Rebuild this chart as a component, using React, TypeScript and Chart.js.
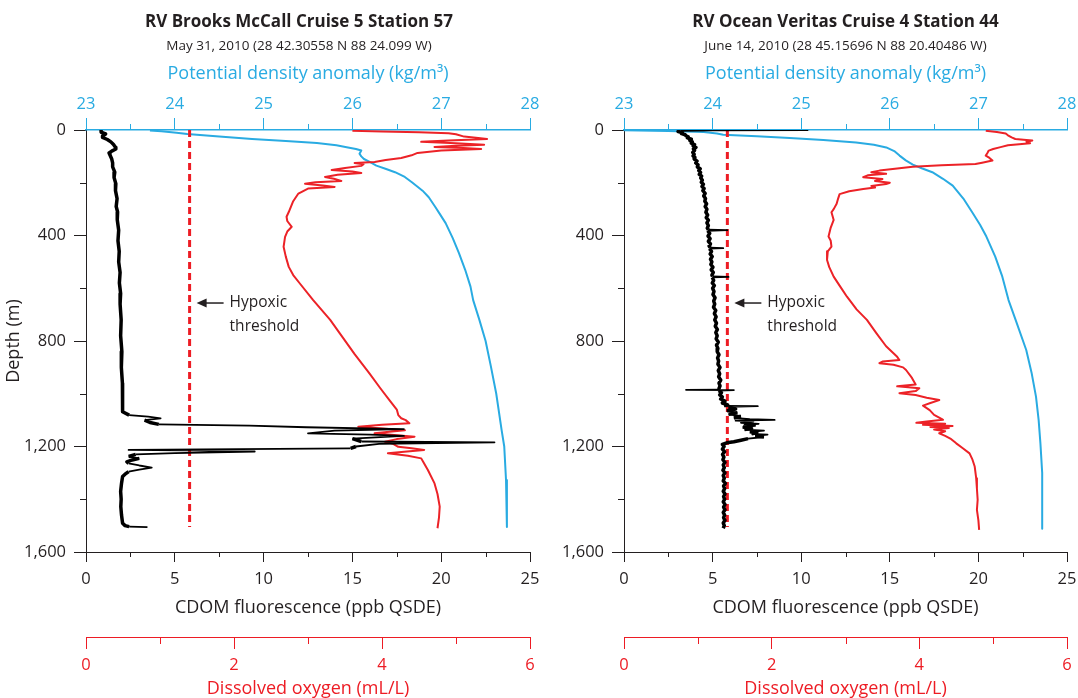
import React, { useEffect, useRef } from 'react';
import { Chart, registerables } from 'chart.js';

Chart.register(...registerables);

const FONT = "'Open Sans', 'Noto Sans', sans-serif";
const DARK = '#231F20';
const BLUE = '#29ABE2';
const RED = '#ED1C24';
const RED_LINE = '#EC2227';

// ---- tick values ----
const depthTicks = [0, 400, 800, 1200, 1600];
const depthMinorTicks = [200, 600, 1000, 1400];
const densityTicks = [23, 24, 25, 26, 27, 28];
const densityMinorTicks = [23.5, 24.5, 25.5, 26.5, 27.5];
const cdomTicks = [0, 5, 10, 15, 20, 25];
const cdomMinorTicks = [2.5, 7.5, 12.5, 17.5, 22.5];
const oxygenTicks = [0, 2, 4, 6];
const oxygenMinorTicks = [1, 3, 5];

const hypoxicThreshold = 1.4; // mL/L
const thresholdDepths = [0, 1505];
const annotationDepth = 656;

type Pair = [number, number]; // [depth (m), value]

// ---- RV Brooks McCall Cruise 5 Station 57 ----
const mcCallCdom: Pair[] = [
  [2, 0.9], [8, 0.85], [15, 1.1], [22, 0.95], [28, 0.93], [36, 1.2], [45, 1.4], [55, 1.55], [65, 1.65],
  [72, 1.68], [80, 1.45], [87, 1.3], [95, 1.35], [110, 1.45], [125, 1.5], [140, 1.5], [160, 1.62],
  [180, 1.58], [204, 1.68], [230, 1.66], [260, 1.75], [290, 1.7], [311, 1.78], [340, 1.76], [380, 1.84],
  [420, 1.8], [460, 1.87], [500, 1.84], [540, 1.92], [580, 1.88], [620, 1.95], [660, 1.92], [720, 1.98],
  [780, 1.95], [840, 2.02], [900, 1.99], [960, 2.05], [1024, 2.04], [1068, 2.08], [1081, 2.43], [1087, 3.5],
  [1093, 4.2], [1100, 3.3], [1109, 3.6], [1116, 4.1], [1121, 9.2], [1127, 12.4], [1134, 17.9], [1140, 14.0],
  [1150, 12.5], [1155, 16.0], [1160, 17.9], [1170, 15.0], [1181, 15.5], [1184, 23.0], [1190, 16.5],
  [1200, 15.2], [1207, 14.9], [1213, 2.4], [1216, 7.0], [1219, 9.5], [1225, 5.0], [1230, 2.8], [1238, 2.4],
  [1245, 3.0], [1251, 2.6], [1258, 2.3], [1264, 2.4], [1272, 3.0], [1280, 3.7], [1288, 3.0], [1295, 2.4],
  [1305, 2.2], [1314, 2.06], [1340, 2.0], [1370, 1.95], [1400, 1.98], [1428, 1.96], [1460, 2.0],
  [1491, 2.06], [1500, 2.2], [1504, 2.43], [1506, 3.46],
];
const mcCallDensity: Pair[] = [
  [2, 23.72], [5, 23.85], [10, 24.02], [15, 24.14], [25, 24.5], [34, 24.87], [42, 25.25], [49, 25.6],
  [58, 25.82], [66, 25.95], [72, 26.04], [78, 26.1], [90, 26.08], [100, 26.1], [110, 26.13], [122, 26.2],
  [135, 26.27], [148, 26.38], [160, 26.48], [178, 26.59], [198, 26.67], [230, 26.79], [255, 26.86],
  [290, 26.93], [316, 26.98], [353, 27.05], [410, 27.13], [467, 27.2], [530, 27.27], [594, 27.33],
  [645, 27.36], [720, 27.43], [800, 27.5], [897, 27.56], [1000, 27.62], [1137, 27.68], [1200, 27.71],
  [1327, 27.73], [1420, 27.74], [1505, 27.74],
];
const mcCallOxygen: Pair[] = [
  [3, 3.6], [6, 4.0], [9, 4.5], [12, 4.9], [16, 5.0], [25, 5.11], [30, 5.3], [34, 5.42], [40, 4.9],
  [45, 4.53], [50, 5.0], [56, 5.38], [60, 5.0], [64, 4.71], [68, 5.1], [72, 5.34], [78, 4.8], [87, 4.48],
  [96, 4.4], [106, 4.26], [114, 4.05], [121, 3.9], [125, 3.63], [130, 3.75], [136, 3.72], [144, 3.5],
  [152, 3.32], [157, 3.6], [163, 3.72], [170, 3.4], [178, 3.23], [185, 3.35], [193, 3.45], [198, 3.1],
  [204, 2.96], [210, 3.2], [216, 3.36], [222, 3.0], [241, 2.87], [270, 2.8], [311, 2.74], [329, 2.71],
  [345, 2.72], [367, 2.78], [385, 2.72], [405, 2.69], [443, 2.67], [480, 2.7], [519, 2.74], [550, 2.8],
  [582, 2.89], [645, 3.07], [720, 3.3], [771, 3.43], [850, 3.63], [923, 3.83], [980, 3.98], [1024, 4.1],
  [1060, 4.2], [1081, 4.22], [1093, 4.26], [1100, 4.32], [1112, 4.37], [1118, 4.0], [1125, 3.68],
  [1132, 4.0], [1138, 4.31], [1144, 4.1], [1150, 3.9], [1157, 4.2], [1163, 4.44], [1172, 4.2],
  [1182, 4.04], [1190, 4.15], [1201, 4.22], [1207, 4.4], [1213, 4.57], [1220, 4.3], [1226, 4.08],
  [1235, 4.35], [1245, 4.53], [1260, 4.56], [1289, 4.62], [1340, 4.71], [1380, 4.75], [1428, 4.78],
  [1470, 4.77], [1510, 4.75],
];

// ---- RV Ocean Veritas Cruise 4 Station 44 ----
const veritasCdom: Pair[] = [
  [0.5, 10.4], [1.5, 5.0], [3, 3.2], [6, 3.05], [10, 3.3], [14, 3.25], [18, 3.45], [22, 3.5], [26, 3.62],
  [30, 3.58], [35, 3.8], [40, 3.72], [45, 3.85], [50, 3.8], [55, 3.98], [60, 3.9], [66, 4.06], [72, 3.92],
  [78, 3.98], [85, 3.88], [92, 3.96], [98, 3.9], [104, 4.0], [110, 3.96], [118, 4.12], [125, 4.05],
  [132, 4.18], [140, 4.14], [147, 4.3], [154, 4.22], [161, 4.32], [168, 4.25], [175, 4.38], [182, 4.33],
  [190, 4.42], [198, 4.36], [206, 4.48], [214, 4.4], [222, 4.52], [230, 4.45], [240, 4.58], [250, 4.5],
  [260, 4.6], [270, 4.56], [280, 4.66], [290, 4.58], [300, 4.68], [312, 4.62], [322, 4.72], [332, 4.64],
  [342, 4.76], [352, 4.68], [362, 4.76], [372, 4.7], [378, 4.76], [380, 5.83], [382, 4.72], [392, 4.84],
  [402, 4.74], [412, 4.86], [422, 4.76], [432, 4.88], [440, 4.8], [446, 4.86], [448, 5.6], [450, 4.82],
  [460, 4.94], [470, 4.86], [480, 4.98], [490, 4.88], [500, 4.96], [510, 4.9], [520, 5.02], [530, 4.92],
  [540, 5.04], [550, 4.96], [555, 5.0], [557, 5.9], [559, 4.98], [570, 5.06], [580, 4.98], [590, 5.1],
  [600, 5.0], [612, 5.08], [624, 5.02], [636, 5.14], [648, 5.06], [660, 5.12], [672, 5.05], [684, 5.18],
  [696, 5.1], [708, 5.2], [720, 5.12], [732, 5.22], [744, 5.15], [756, 5.27], [768, 5.18], [780, 5.26],
  [792, 5.2], [804, 5.32], [816, 5.22], [828, 5.3], [840, 5.26], [852, 5.36], [864, 5.28], [876, 5.34],
  [888, 5.3], [900, 5.42], [912, 5.32], [924, 5.4], [936, 5.34], [948, 5.46], [960, 5.36], [970, 5.42],
  [980, 5.36], [984, 5.4], [985, 3.5], [986, 6.2], [988, 5.35], [996, 5.5], [1004, 5.4], [1012, 5.55],
  [1020, 5.45], [1028, 5.7], [1035, 5.55], [1042, 5.85], [1046, 5.65], [1047, 7.55], [1050, 5.9],
  [1058, 6.3], [1065, 5.8], [1072, 6.4], [1078, 5.9], [1085, 6.6], [1092, 6.2], [1096, 7.1], [1099, 8.5],
  [1102, 6.3], [1106, 7.3], [1110, 6.6], [1114, 7.6], [1118, 6.8], [1122, 7.4], [1126, 6.7], [1132, 7.2],
  [1136, 6.8], [1140, 7.9], [1144, 7.1], [1148, 7.5], [1152, 7.2], [1155, 8.1], [1160, 7.4], [1164, 7.9],
  [1170, 7.0], [1176, 6.6], [1182, 6.2], [1186, 5.8], [1192, 5.55], [1200, 5.65], [1210, 5.55], [1220, 5.68],
  [1230, 5.56], [1240, 5.64], [1250, 5.58], [1260, 5.7], [1270, 5.6], [1280, 5.66], [1290, 5.58],
  [1300, 5.7], [1310, 5.6], [1320, 5.66], [1330, 5.6], [1340, 5.72], [1350, 5.62], [1360, 5.68],
  [1370, 5.6], [1380, 5.7], [1390, 5.62], [1400, 5.68], [1410, 5.6], [1420, 5.7], [1430, 5.62],
  [1440, 5.7], [1450, 5.6], [1460, 5.68], [1470, 5.62], [1480, 5.7], [1490, 5.6], [1500, 5.66],
  [1510, 5.6],
];
const veritasDensity: Pair[] = [
  [1, 23.0], [4, 23.5], [8, 23.9], [13, 24.05], [18, 24.12], [24, 24.5], [30, 24.87], [38, 25.25],
  [47, 25.62], [56, 25.82], [66, 25.96], [80, 26.05], [97, 26.11], [115, 26.18], [131, 26.26],
  [145, 26.36], [160, 26.48], [185, 26.6], [211, 26.71], [260, 26.83], [312, 26.93], [360, 27.02],
  [404, 27.09], [480, 27.19], [556, 27.27], [645, 27.34], [720, 27.42], [834, 27.54], [920, 27.6],
  [1011, 27.65], [1100, 27.68], [1188, 27.7], [1300, 27.72], [1402, 27.72], [1512, 27.72],
];
const veritasOxygen: Pair[] = [
  [3, 4.9], [8, 5.05], [13, 5.17], [20, 5.2], [28, 5.25], [34, 5.3], [38, 5.45], [40, 5.53], [45, 5.45],
  [50, 5.5], [53, 5.39], [58, 5.2], [65, 5.1], [72, 5.0], [78, 4.94], [88, 4.92], [97, 4.9], [106, 4.95],
  [116, 4.99], [124, 4.85], [129, 4.76], [134, 4.3], [139, 3.91], [146, 3.7], [154, 3.46], [160, 3.35],
  [166, 3.55], [172, 3.3], [179, 3.24], [186, 3.5], [193, 3.4], [200, 3.6], [205, 3.55], [212, 3.35],
  [218, 3.4], [224, 3.24], [232, 3.05], [243, 2.92], [260, 2.9], [280, 2.88], [300, 2.84], [312, 2.81],
  [341, 2.84], [370, 2.8], [404, 2.77], [420, 2.8], [442, 2.81], [460, 2.76], [493, 2.75], [520, 2.78],
  [556, 2.84], [590, 2.92], [632, 3.02], [680, 3.15], [720, 3.29], [771, 3.42], [820, 3.55], [860, 3.7],
  [872, 3.73], [878, 3.5], [884, 3.46], [890, 3.65], [900, 3.78], [910, 3.82], [940, 3.9], [965, 3.95],
  [972, 3.7], [979, 4.0], [990, 3.95], [998, 3.73], [1005, 3.95], [1015, 4.1], [1024, 4.27], [1035, 4.15],
  [1045, 4.05], [1062, 4.14], [1080, 4.2], [1095, 4.3], [1099, 4.32], [1105, 4.1], [1110, 3.96],
  [1114, 4.35], [1118, 4.05], [1122, 4.45], [1126, 4.15], [1130, 4.4], [1136, 4.2], [1142, 4.35],
  [1150, 4.27], [1160, 4.35], [1170, 4.42], [1188, 4.5], [1205, 4.58], [1226, 4.68], [1250, 4.72],
  [1276, 4.75], [1320, 4.77], [1360, 4.78], [1402, 4.79], [1440, 4.78], [1480, 4.8], [1516, 4.81],
];

interface PanelSpec {
  title: string;
  subtitle: string;
  cdom: Pair[];
  density: Pair[];
  oxygen: Pair[];
  showDepthTitle: boolean;
  yWidth: number;
  rightSpace: number;
  padRight: number;
  titleFullSize: boolean;
  cdomWidth: number;
}

const toPoints = (pairs: Pair[]) => pairs.map(([d, v]) => ({ x: v, y: d }));

const alignPx = (p: number) => Math.round(p) + 0.5;

function makeMinorPlugin() {
  const items: { id: string; values: number[]; len: number; color: string }[] = [
    { id: 'y', values: depthMinorTicks, len: 6, color: DARK },
    { id: 'xDen', values: densityMinorTicks, len: 6, color: BLUE },
    { id: 'xCdom', values: cdomMinorTicks, len: 5, color: DARK },
    { id: 'xDO', values: oxygenMinorTicks, len: 7, color: RED },
  ];
  return {
    id: 'minorTicks',
    afterDraw(chart: any) {
      const ctx = chart.ctx;
      ctx.save();
      ctx.lineWidth = 1;
      items.forEach((it) => {
        const s = chart.scales[it.id];
        if (!s) return;
        ctx.strokeStyle = it.color;
        ctx.beginPath();
        it.values.forEach((v) => {
          const p = alignPx(s.getPixelForValue(v));
          if (s.isHorizontal()) {
            const y0 = s.position === 'top' ? s.bottom : s.top;
            const y1 = s.position === 'top' ? y0 - it.len : y0 + it.len;
            ctx.moveTo(p, y0);
            ctx.lineTo(p, y1);
          } else {
            ctx.moveTo(s.right, p);
            ctx.lineTo(s.right - it.len, p);
          }
        });
        ctx.stroke();
      });
      ctx.restore();
    },
  };
}

const annotationPlugin = {
  id: 'hypoxicNote',
  afterDatasetsDraw(chart: any) {
    const ctx = chart.ctx;
    const x = chart.scales.xDO.getPixelForValue(hypoxicThreshold);
    const y = chart.scales.y.getPixelForValue(annotationDepth);
    ctx.save();
    ctx.strokeStyle = DARK;
    ctx.fillStyle = DARK;
    ctx.lineWidth = 1.5;
    ctx.beginPath();
    ctx.moveTo(x + 34, y);
    ctx.lineTo(x + 14, y);
    ctx.stroke();
    ctx.beginPath();
    ctx.moveTo(x + 7, y);
    ctx.lineTo(x + 17, y - 4.5);
    ctx.lineTo(x + 17, y + 4.5);
    ctx.closePath();
    ctx.fill();
    ctx.font = `15.5px ${FONT}`;
    ctx.textAlign = 'left';
    ctx.textBaseline = 'middle';
    ctx.fillText('Hypoxic', x + 40, y);
    ctx.fillText('threshold', x + 40, y + 24);
    ctx.restore();
  },
};

function makeConfig(p: PanelSpec): any {
  const tickFont = { family: FONT, size: 16.5 };
  const titleFont = { family: FONT, size: 18 };
  const setTicks = (values: number[]) => (s: any) => {
    s.ticks = values.map((v) => ({ value: v }));
  };
  const fixH = (h: number) => (s: any) => {
    s.height = h;
    s.paddingLeft = 0;
    s.paddingRight = 0;
  };
  const line = { showLine: true, pointRadius: 0, tension: 0, yAxisID: 'y', borderJoinStyle: 'round' };
  const scales: any = {
    y: {
      type: 'linear',
      axis: 'y',
      position: 'left',
      reverse: true,
      min: 0,
      max: 1600,
      afterBuildTicks: setTicks(depthTicks),
      afterFit: (s: any) => {
        s.width = p.yWidth;
        s.paddingTop = 0;
        s.paddingBottom = 0;
      },
      grid: { drawOnChartArea: false, drawTicks: true, tickLength: 12, tickColor: DARK, tickWidth: 1 },
      border: { display: true, color: DARK, width: 1 },
      ticks: {
        color: DARK,
        font: tickFont,
        padding: 8,
        callback: (v: any) => Number(v).toLocaleString('en-US'),
      },
      title: {
        display: p.showDepthTitle,
        text: 'Depth (m)',
        color: DARK,
        font: titleFont,
        padding: { top: 3.2, bottom: 0 },
      },
    },
    xDen: {
      type: 'linear',
      axis: 'x',
      position: 'top',
      min: 23,
      max: 28,
      afterBuildTicks: setTicks(densityTicks),
      afterFit: fixH(75.9),
      grid: { drawOnChartArea: false, drawTicks: true, tickLength: 12, tickColor: BLUE, tickWidth: 1 },
      border: { display: true, color: BLUE, width: 1.5 },
      ticks: { color: BLUE, font: tickFont, padding: 4.1, maxRotation: 0, autoSkip: false },
      title: {
        display: true,
        text: 'Potential density anomaly (kg/m³)',
        color: BLUE,
        font: titleFont,
        padding: { top: 9.1, bottom: 0 },
      },
    },
    xCdom: {
      type: 'linear',
      axis: 'x',
      position: 'bottom',
      weight: 0,
      min: 0,
      max: 25,
      afterBuildTicks: setTicks(cdomTicks),
      afterFit: fixH(85),
      grid: { drawOnChartArea: false, drawTicks: true, tickLength: 10, tickColor: DARK, tickWidth: 1 },
      border: { display: true, color: DARK, width: 1 },
      ticks: { color: DARK, font: tickFont, padding: 7.1, maxRotation: 0, autoSkip: false },
      title: {
        display: true,
        text: 'CDOM fluorescence (ppb QSDE)',
        color: DARK,
        font: titleFont,
        padding: { top: 0, bottom: 18.2 },
      },
    },
    xDO: {
      type: 'linear',
      axis: 'x',
      position: 'bottom',
      weight: 1,
      min: 0,
      max: 6,
      afterBuildTicks: setTicks(oxygenTicks),
      afterFit: fixH(61),
      grid: { drawOnChartArea: false, drawTicks: true, tickLength: 12, tickColor: RED, tickWidth: 1 },
      border: { display: true, color: RED, width: 1 },
      ticks: { color: RED, font: tickFont, padding: 6.1, maxRotation: 0, autoSkip: false },
      title: {
        display: true,
        text: 'Dissolved oxygen (mL/L)',
        color: RED,
        font: titleFont,
        padding: { top: 0, bottom: -1.5 },
      },
    },
  };
  if (p.rightSpace > 0) {
    // empty spacer on the right so the full-width title centres like the original
    scales.ySpace = {
      type: 'linear',
      axis: 'y',
      position: 'right',
      display: true,
      min: 0,
      max: 1,
      afterFit: (s: any) => {
        s.width = p.rightSpace;
        s.paddingTop = 0;
        s.paddingBottom = 0;
      },
      grid: { display: false, drawTicks: false },
      border: { display: false },
      ticks: { display: false },
      title: { display: false },
    };
  }
  const cdomSegmentWidth = (ctx: any) =>
    Math.abs(ctx.p1.parsed.x - ctx.p0.parsed.x) > 0.6 ? 1.8 : p.cdomWidth;
  return {
    type: 'scatter',
    data: {
      datasets: [
        {
          ...line,
          label: 'CDOM fluorescence',
          data: toPoints(p.cdom),
          xAxisID: 'xCdom',
          borderColor: '#000000',
          borderWidth: p.cdomWidth,
          segment: { borderWidth: cdomSegmentWidth },
        },
        {
          ...line,
          label: 'Hypoxic threshold',
          data: thresholdDepths.map((d) => ({ x: hypoxicThreshold, y: d })),
          xAxisID: 'xDO',
          borderColor: RED,
          borderWidth: 3,
          borderDash: [7, 4],
          borderJoinStyle: 'miter',
        },
        { ...line, label: 'Dissolved oxygen', data: toPoints(p.oxygen), xAxisID: 'xDO', borderColor: RED_LINE, borderWidth: 2 },
        { ...line, label: 'Potential density anomaly', data: toPoints(p.density), xAxisID: 'xDen', borderColor: BLUE, borderWidth: 2 },
      ],
    },
    options: {
      responsive: false,
      animation: false,
      events: [],
      layout: { padding: { left: 0, right: p.padRight, top: 0, bottom: 0 } },
      plugins: {
        legend: { display: false },
        tooltip: { enabled: false },
        title: {
          display: true,
          text: p.title,
          color: DARK,
          font: { family: FONT, size: 17, weight: 'bold' },
          padding: { top: 11.8, bottom: 2 },
          fullSize: p.titleFullSize,
        },
        subtitle: {
          display: true,
          text: p.subtitle,
          color: DARK,
          font: { family: FONT, size: 13.5 },
          padding: { top: 3.7, bottom: 0 },
          fullSize: p.titleFullSize,
        },
      },
      scales,
    },
    plugins: [makeMinorPlugin(), annotationPlugin],
  };
}

const leftPanel: PanelSpec = {
  title: 'RV Brooks McCall Cruise 5 Station 57',
  subtitle: 'May 31, 2010 (28 42.30558 N 88 24.099 W)',
  cdom: mcCallCdom,
  density: mcCallDensity,
  oxygen: mcCallOxygen,
  showDepthTitle: true,
  yWidth: 86,
  rightSpace: 68,
  padRight: 0,
  titleFullSize: true,
  cdomWidth: 3.5,
};

const rightPanel: PanelSpec = {
  title: 'RV Ocean Veritas Cruise 4 Station 44',
  subtitle: 'June 14, 2010 (28 45.15696 N 88 20.40486 W)',
  cdom: veritasCdom,
  density: veritasDensity,
  oxygen: veritasOxygen,
  showDepthTitle: false,
  yWidth: 84,
  rightSpace: 0,
  padRight: 11,
  titleFullSize: false,
  cdomWidth: 3.5,
};

function Panel({ spec, left, width }: { spec: PanelSpec; left: number; width: number }) {
  const ref = useRef<HTMLCanvasElement | null>(null);
  useEffect(() => {
    if (!ref.current) return;
    const chart = new Chart(ref.current, makeConfig(spec));
    return () => chart.destroy();
  }, [spec]);
  return (
    <canvas
      ref={ref}
      width={width}
      height={698}
      style={{ position: 'absolute', left, top: 0, width, height: 698 }}
    />
  );
}

export default function App() {
  Chart.defaults.font.family = FONT;
  Chart.defaults.color = DARK;
  return (
    <div style={{ position: 'absolute', left: 0, top: 0, width: 1078, height: 698, background: '#fff', overflow: 'hidden' }}>
      <Panel spec={leftPanel} left={0} width={598} />
      <Panel spec={rightPanel} left={540} width={538} />
    </div>
  );
}
